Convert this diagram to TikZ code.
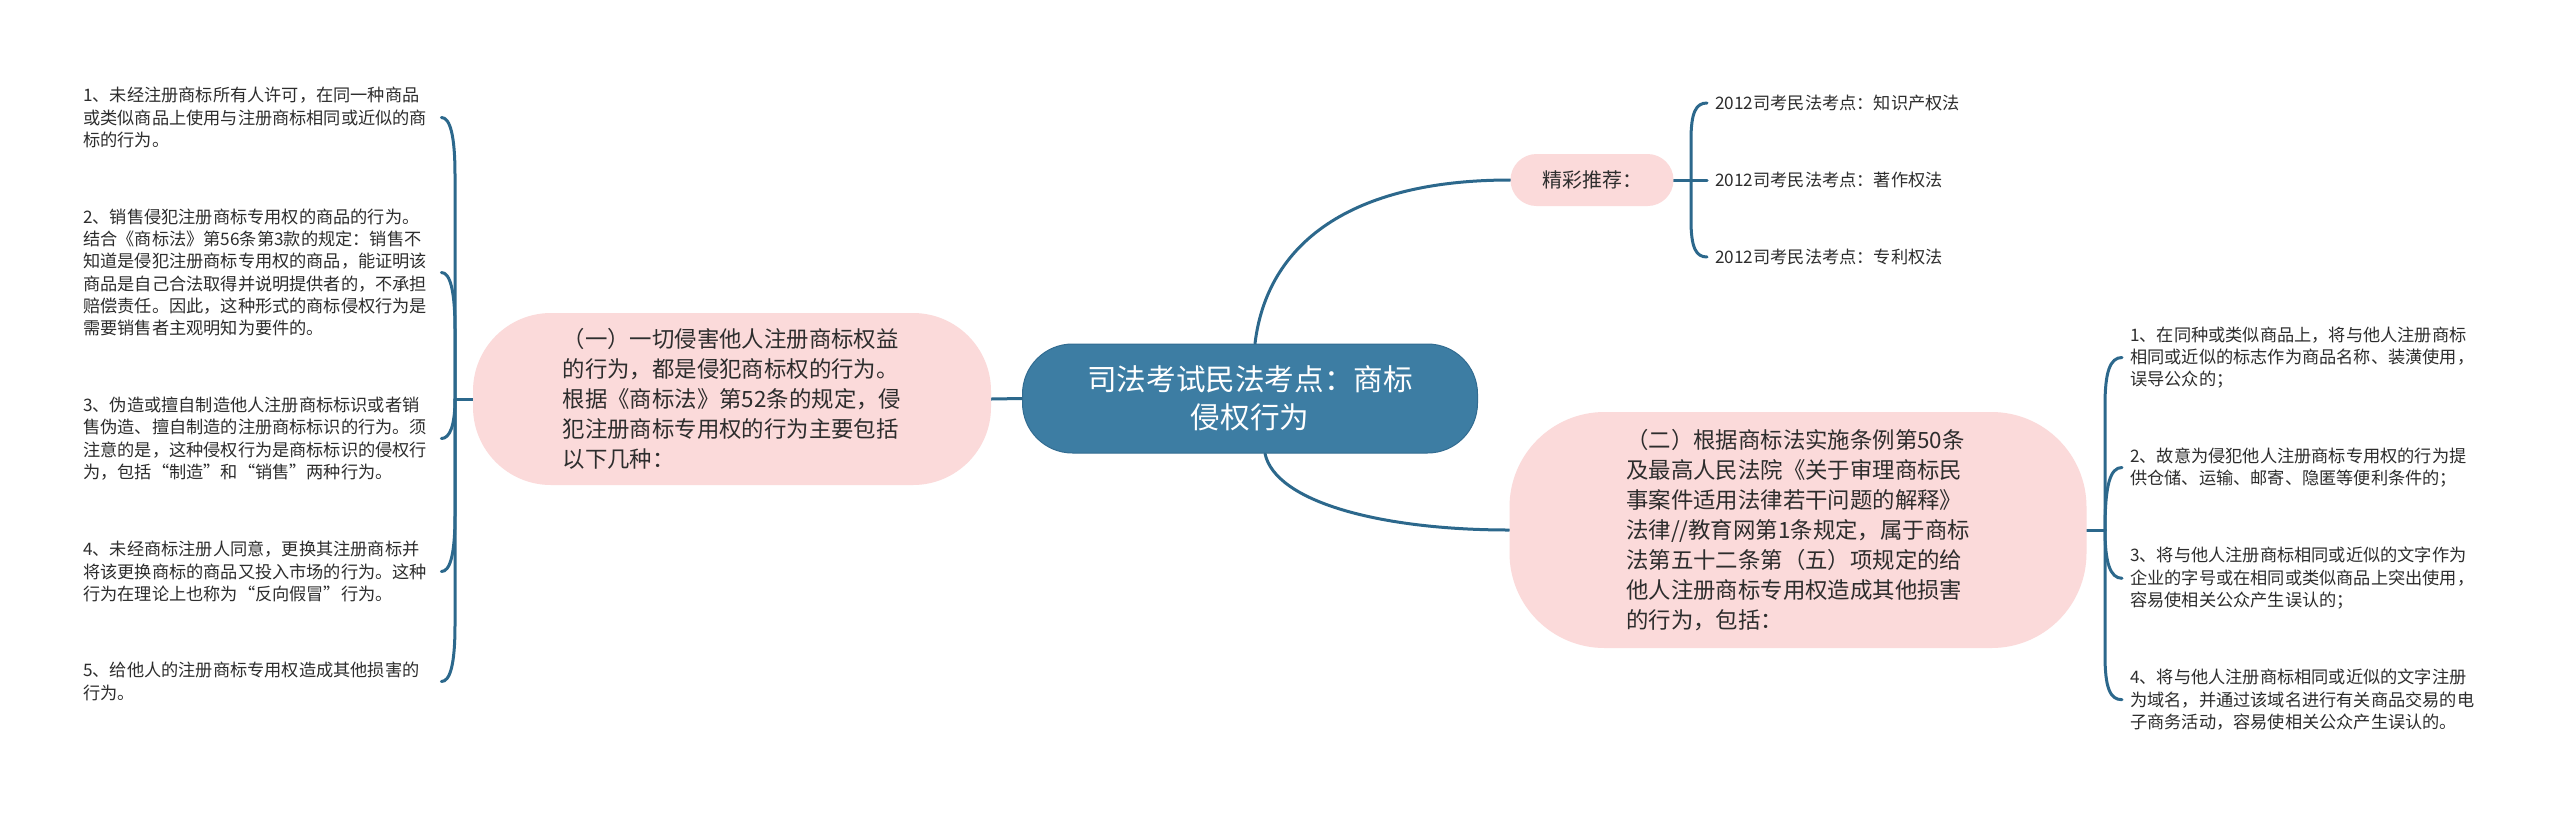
\documentclass[tikz,border=0pt]{standalone}
\usepackage{fontspec}
\newfontfamily\cjk{Noto Sans CJK SC}
\usetikzlibrary{calc,backgrounds}
\definecolor{rootblue}{RGB}{61,125,163}
\definecolor{rootedge}{RGB}{50,108,145}
\definecolor{connblue}{RGB}{44,104,140}
\definecolor{pinkfill}{RGB}{251,218,218}
\definecolor{txt}{RGB}{45,45,45}
\begin{document}
\begin{tikzpicture}[x=1pt,y=-1pt,
  conn/.style={draw=connblue,line width=3pt,line cap=round},
  rootbox/.style={fill=rootblue,draw=rootedge,line width=1pt,rounded corners=50pt,minimum width=455pt,minimum height=109pt,text=white,align=center,font={\cjk\fontsize{29.6}{38}\selectfont},inner sep=0pt},
  pinkbox/.style={fill=pinkfill,draw=none,align=left,text=txt,inner sep=0pt},
  bigtext/.style={font={\cjk\fontsize{22.4}{30}\selectfont}},
  leaf/.style={align=left,text=txt,inner xsep=8pt,inner ysep=2pt,font={\cjk\fontsize{17.2}{22.3}\selectfont}},
  lleaf/.style={leaf,text width=350pt,anchor=west},
  rleaf/.style={leaf,anchor=west},
]
\useasboundingbox (0,0) rectangle (2560,815);

% central topic
\node[rootbox] (root) at (1250,398.5) {司法考试民法考点：商标\\侵权行为};

% main branches
\node[pinkbox,bigtext,minimum width=518pt,minimum height=172pt,rounded corners=78pt] (one) at (732,399)
 {（一）一切侵害他人注册商标权益\\的行为，都是侵犯商标权的行为。\\根据《商标法》第52条的规定，侵\\犯注册商标专用权的行为主要包括\\以下几种：};
\node[pinkbox,bigtext,minimum width=577pt,minimum height=236pt,rounded corners=95pt] (two) at (1798,530)
 {（二）根据商标法实施条例第50条\\及最高人民法院《关于审理商标民\\事案件适用法律若干问题的解释》\\法律//教育网第1条规定，属于商标\\法第五十二条第（五）项规定的给\\他人注册商标专用权造成其他损害\\的行为，包括：};
\node[pinkbox,minimum width=163pt,minimum height=52pt,rounded corners=26pt,font={\cjk\fontsize{20}{24}\selectfont}] (rec) at (1592,180) {精彩推荐：};

% left leaves
\node[lleaf] (l1) at (75,117.5) {1、未经注册商标所有人许可，在同一种商品\\或类似商品上使用与注册商标相同或近似的商\\标的行为。};
\node[lleaf] (l2) at (75,272.5) {2、销售侵犯注册商标专用权的商品的行为。\\结合《商标法》第56条第3款的规定：销售不\\知道是侵犯注册商标专用权的商品，能证明该\\商品是自己合法取得并说明提供者的，不承担\\赔偿责任。因此，这种形式的商标侵权行为是\\需要销售者主观明知为要件的。};
\node[lleaf] (l3) at (75,438.5) {3、伪造或擅自制造他人注册商标标识或者销\\售伪造、擅自制造的注册商标标识的行为。须\\注意的是，这种侵权行为是商标标识的侵权行\\为，包括“制造”和“销售”两种行为。};
\node[lleaf] (l4) at (75,571.5) {4、未经商标注册人同意，更换其注册商标并\\将该更换商标的商品又投入市场的行为。这种\\行为在理论上也称为“反向假冒”行为。};
\node[lleaf] (l5) at (75,681.5) {5、给他人的注册商标专用权造成其他损害的\\行为。};

% right leaves
\node[rleaf] (r1) at (2122,357.5) {1、在同种或类似商品上，将与他人注册商标\\相同或近似的标志作为商品名称、装潢使用，\\误导公众的；};
\node[rleaf] (r2) at (2122,467.5) {2、故意为侵犯他人注册商标专用权的行为提\\供仓储、运输、邮寄、隐匿等便利条件的；};
\node[rleaf] (r3) at (2122,578.3) {3、将与他人注册商标相同或近似的文字作为\\企业的字号或在相同或类似商品上突出使用，\\容易使相关公众产生误认的；};
\node[rleaf] (r4) at (2122,699.7) {4、将与他人注册商标相同或近似的文字注册\\为域名，并通过该域名进行有关商品交易的电\\子商务活动，容易使相关公众产生误认的。};

% recommended leaves
\node[rleaf] (p1) at (1707,103) {2012司考民法考点：知识产权法};
\node[rleaf] (p2) at (1707,180) {2012司考民法考点：著作权法};
\node[rleaf] (p3) at (1707,257) {2012司考民法考点：专利权法};

\coordinate (jl) at (455,399);
\coordinate (jr) at (2105,530);
\coordinate (jp) at (1691,180);

\begin{scope}[on background layer]
\fill[white] (0,0) rectangle (2560,815);
\draw[conn] ($(root.north)+(5,0)$) .. controls +(12,-100) and +(-160,0) .. (rec.west);
\draw[conn] ($(root.south)+(15,0)$) .. controls +(10,48) and +(-130,0) .. (two.west);
\draw[conn] (root.west) -- (one.east);

\draw[conn] (one.west) -- (jl);
\draw[conn] (jl) -- (455,175) .. controls (455,135) and (450,117.5) .. (l1.east);
\draw[conn] (jl) -- (455,330) .. controls (455,290) and (450,272.5) .. (l2.east);
\draw[conn] (jl) .. controls (455,425) and (450,438.5) .. (l3.east);
\draw[conn] (jl) -- (455,515) .. controls (455,555) and (450,571.5) .. (l4.east);
\draw[conn] (jl) -- (455,625) .. controls (455,665) and (450,681.5) .. (l5.east);

\draw[conn] (two.east) -- (jr);
\draw[conn] (jr) -- (2105,405) .. controls (2105,372) and (2110,357.5) .. (r1.west);
\draw[conn] (jr) .. controls (2105,485) and (2110,467.5) .. (r2.west);
\draw[conn] (jr) .. controls (2105,562) and (2110,578.3) .. (r3.west);
\draw[conn] (jr) -- (2105,655) .. controls (2105,688) and (2110,699.7) .. (r4.west);

\draw[conn] (rec.east) -- (p2.west);
\draw[conn] (jp) -- (1691,140) .. controls (1691,112) and (1696,103) .. (p1.west);
\draw[conn] (jp) -- (1691,220) .. controls (1691,248) and (1696,257) .. (p3.west);
\end{scope}
\end{tikzpicture}
\end{document}
